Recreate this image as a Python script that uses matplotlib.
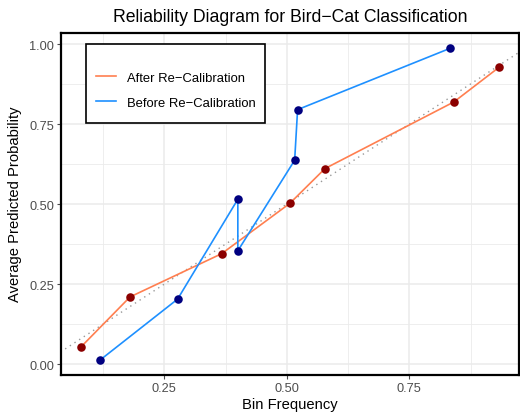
import matplotlib
matplotlib.use("Agg")
import matplotlib.pyplot as plt
from matplotlib.patches import Rectangle
import numpy as np

plt.rcParams['font.family'] = ['Liberation Sans', 'DejaVu Sans']

title = "Reliability Diagram for Bird\u2212Cat Classification"
xlabel = "Bin Frequency"
ylabel = "Average Predicted Probability"
label_after = "After Re\u2212Calibration"
label_before = "Before Re\u2212Calibration"

before_x = [0.119, 0.277, 0.400, 0.400, 0.516, 0.522, 0.834]
before_y = [0.013, 0.203, 0.515, 0.354, 0.637, 0.795, 0.987]
after_x = [0.080, 0.180, 0.367, 0.506, 0.578, 0.841, 0.933]
after_y = [0.054, 0.210, 0.345, 0.502, 0.611, 0.819, 0.927]

xticks = [0.25, 0.50, 0.75]
yticks = [0.00, 0.25, 0.50, 0.75, 1.00]
xminor = [0.125, 0.375, 0.625, 0.875]
yminor = [0.125, 0.375, 0.625, 0.875]

W, H = 520, 414
fig = plt.figure(figsize=(W/100, H/100), dpi=100)
ax = fig.add_axes([61/W, 1-376/H, (519-61)/W, (376-33.5)/H])

ax.set_xlim(0.039, 0.974)
ax.set_ylim(-0.034, 1.036)

for v in xminor:
    ax.axvline(v, color='#EBEBEB', lw=0.6, zorder=0)
for v in yminor:
    ax.axhline(v, color='#EBEBEB', lw=0.6, zorder=0)
for v in xticks:
    ax.axvline(v, color='#EBEBEB', lw=1.1, zorder=0)
for v in yticks:
    ax.axhline(v, color='#EBEBEB', lw=1.1, zorder=0)

ax.plot([0, 1.1], [0, 1.1], linestyle=(0, (1, 3)), color='#999999', lw=1.0, zorder=1)

ax.plot(after_x, after_y, color='#FF7F50', lw=1.2, zorder=2, label=label_after)
ax.plot(before_x, before_y, color='#1E90FF', lw=1.2, zorder=2, label=label_before)
ax.scatter(after_x, after_y, color='#8B0000', s=38, zorder=3, linewidths=0)
ax.scatter(before_x, before_y, color='#000080', s=38, zorder=3, linewidths=0)

ax.set_xticks(xticks)
ax.set_xticklabels([f"{v:.2f}" for v in xticks])
ax.set_yticks(yticks)
ax.set_yticklabels([f"{v:.2f}" for v in yticks])
ax.tick_params(axis='both', labelsize=9.2, colors='#4D4D4D', length=3, width=0.8, pad=2)

for s in ax.spines.values():
    s.set_color('black')
    s.set_linewidth(1.6)

ax.set_xlabel(xlabel, fontsize=10.6, labelpad=2)
ax.set_ylabel(ylabel, fontsize=10.6, labelpad=5)
fig.text((61+519)/2/W, 1-17/H, title, ha='center', va='center', fontsize=12.7)

# legend frame (figure pixels)
fig.patches.append(Rectangle((86/W, 1-124/H), (265-86)/W, (124-45)/H,
                             transform=fig.transFigure, fill=True, facecolor='white',
                             edgecolor='black', linewidth=1.2, zorder=4))
leg = fig.legend(loc='upper left', bbox_to_anchor=(96/W, 1-72.5/H),
                 frameon=False, fontsize=9.4, borderpad=0, borderaxespad=0,
                 handlelength=1.55, labelspacing=0.98, handletextpad=0.85)
leg.set_zorder(5)

fig.savefig("out.png", dpi=100)
